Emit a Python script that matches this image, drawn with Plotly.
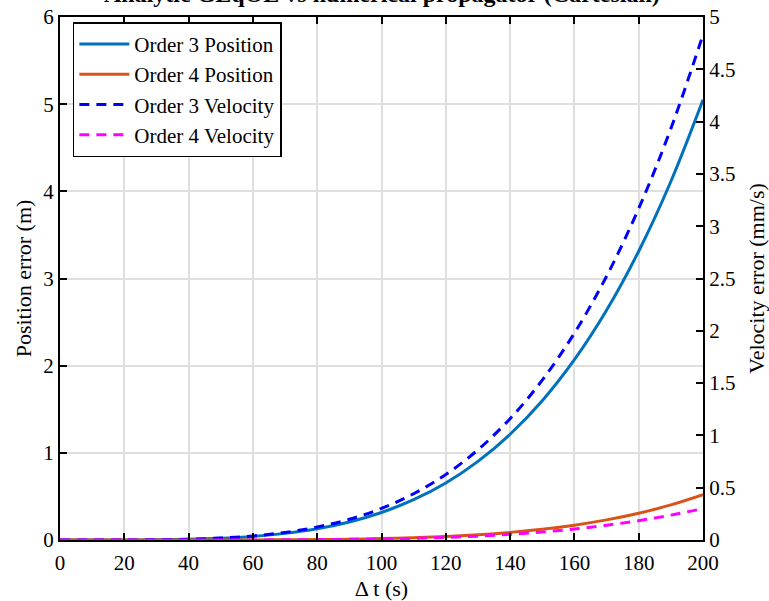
import plotly.graph_objects as go

# Propagation interval (s)
dt = [0, 10, 20, 30, 40, 50, 60, 70, 80, 90, 100, 110, 120, 130, 140, 150, 160, 170, 180, 190, 200]

# Position error (m)
pos_order3 = [0, 0.00003, 0.0005, 0.0026, 0.0081, 0.0197, 0.041, 0.076, 0.129, 0.207, 0.316,
              0.462, 0.654, 0.902, 1.213, 1.598, 2.069, 2.636, 3.313, 4.113, 5.05]
pos_order4 = [0, 0, 0.000005, 0.00004, 0.00017, 0.0005, 0.0013, 0.0028, 0.0053, 0.0096, 0.0163,
              0.0261, 0.0404, 0.0604, 0.0874, 0.1234, 0.1704, 0.2307, 0.3071, 0.4024, 0.52]

# Velocity error (mm/s)
vel_order3 = [0, 0.00003, 0.0005, 0.0024, 0.0077, 0.0189, 0.0391, 0.0725, 0.124, 0.198, 0.302,
              0.442, 0.626, 0.862, 1.160, 1.528, 1.978, 2.521, 3.169, 3.933, 4.83]
vel_order4 = [0, 0, 0.000003, 0.00003, 0.0001, 0.0003, 0.0008, 0.0018, 0.0034, 0.0061, 0.0099,
              0.016, 0.025, 0.037, 0.054, 0.077, 0.105, 0.141, 0.185, 0.238, 0.30]

x_ticks = list(range(0, 201, 20))
y_left_ticks = [0, 1, 2, 3, 4, 5, 6]
y_right_ticks = [0, 0.5, 1, 1.5, 2, 2.5, 3, 3.5, 4, 4.5, 5]
y_right_labels = ["0", "0.5", "1", "1.5", "2", "2.5", "3", "3.5", "4", "4.5", "5"]

FONT = "Liberation Serif, Times New Roman, serif"
LW = 3

fig = go.Figure()
fig.add_trace(go.Scatter(x=dt, y=pos_order3, mode="lines", name="Order 3 Position",
                         line=dict(color="#0072BD", width=LW, shape="spline")))
fig.add_trace(go.Scatter(x=dt, y=pos_order4, mode="lines", name="Order 4 Position",
                         line=dict(color="#D95319", width=LW, shape="spline")))
fig.add_trace(go.Scatter(x=dt, y=vel_order3, mode="lines", name="Order 3 Velocity", yaxis="y2",
                         line=dict(color="#0000FF", width=LW, dash="10px,7px", shape="spline")))
fig.add_trace(go.Scatter(x=dt, y=vel_order4, mode="lines", name="Order 4 Velocity", yaxis="y2",
                         line=dict(color="#FF00FF", width=LW, dash="10px,7px", shape="spline")))

axis_common = dict(
    showline=True, linecolor="black", linewidth=2,
    ticks="inside", ticklen=7, tickwidth=2, tickcolor="black",
    tickfont=dict(family=FONT, size=21, color="black"),
    zeroline=False, automargin=False,
)

fig.update_layout(
    width=769, height=601,
    margin=dict(l=60, r=66, t=17, b=61),
    paper_bgcolor="white", plot_bgcolor="white",
    font=dict(family=FONT, color="black"),
    showlegend=True,
    legend=dict(x=0.02, y=0.99, xanchor="left", yanchor="top",
                bgcolor="white", bordercolor="black", borderwidth=1.5,
                font=dict(family=FONT, size=21, color="black"),
                tracegroupgap=0, itemwidth=50),
    xaxis=dict(range=[0, 200], tickvals=x_ticks, mirror="ticks",
               showgrid=True, gridcolor="#dfdfdf", gridwidth=1.5,
               ticklabelstandoff=3,
               title=dict(text="Δ t (s)", font=dict(family=FONT, size=22), standoff=12),
               **axis_common),
    yaxis=dict(range=[0, 6], tickvals=y_left_ticks,
               showgrid=True, gridcolor="#dfdfdf", gridwidth=1.5,
               title=dict(text="Position error (m)", font=dict(family=FONT, size=22), standoff=6),
               **axis_common),
    yaxis2=dict(range=[0, 5], tickvals=y_right_ticks, ticktext=y_right_labels,
                overlaying="y", side="right", showgrid=False,
                title=dict(text="Velocity error (mm/s)", font=dict(family=FONT, size=22), standoff=14),
                **axis_common),
)

fig.add_annotation(text="<b>Analytic GEqOE vs numerical propagator (Cartesian)</b>",
                   xref="paper", yref="paper", x=0.5, y=1.015, xanchor="center", yanchor="bottom",
                   showarrow=False, font=dict(family=FONT, size=24, color="black"))

fig.write_html("out.html")
